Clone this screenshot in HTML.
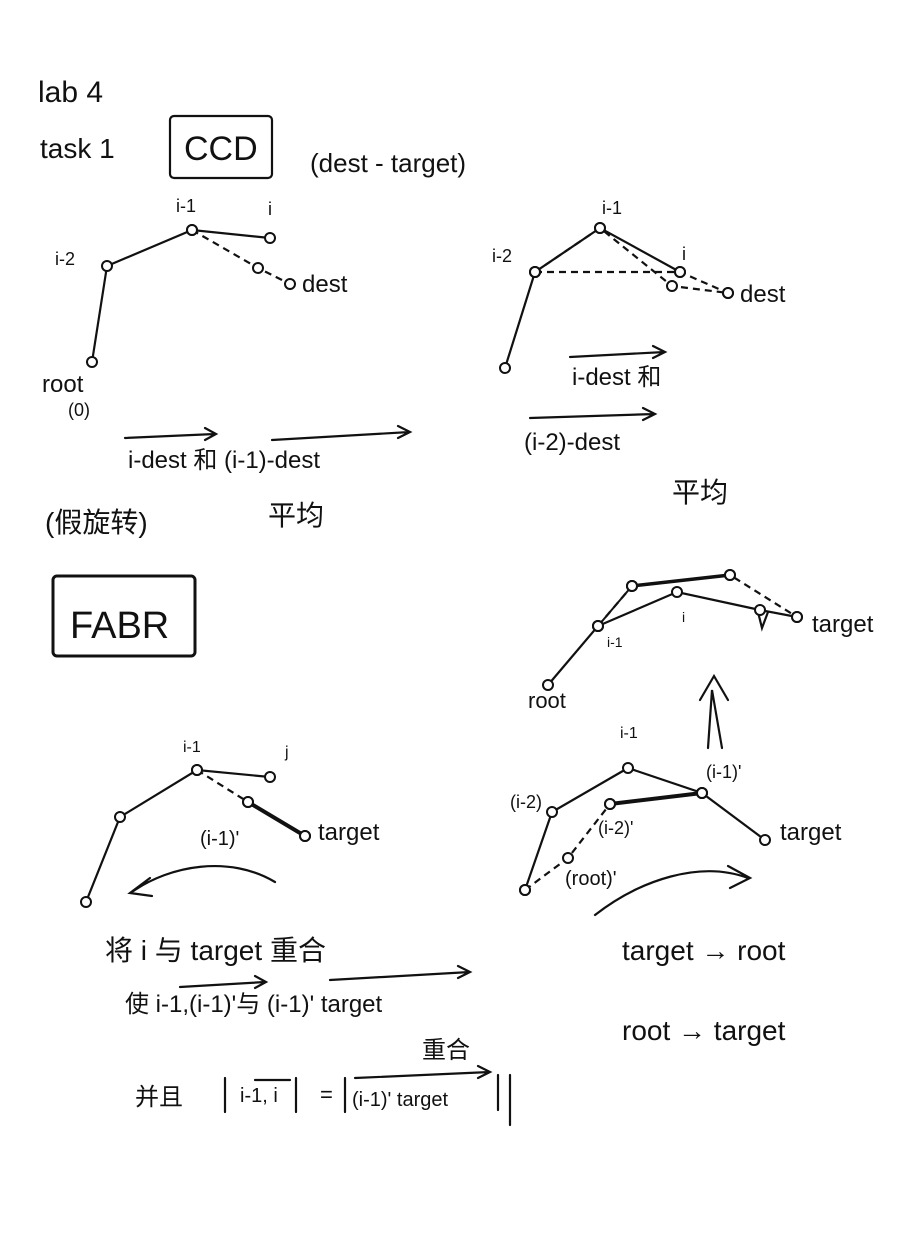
<!DOCTYPE html>
<html><head><meta charset="utf-8"><style>
html,body{margin:0;padding:0;background:#fff;}
svg{display:block;}
text{font-family:"Liberation Sans","Noto Sans CJK SC",sans-serif;fill:#111;}
</style></head><body>
<svg id="s" width="919" height="1234" viewBox="0 0 919 1234">
<g stroke="#111" fill="none" stroke-width="2.2" stroke-linecap="round">
  <rect x="170" y="116" width="102" height="62" rx="4"/>
  <rect x="53" y="576" width="142" height="80" rx="4" stroke-width="3"/>
  <path d="M125 438 L215 434 M205 428 L216 434 L205 440"/>
  <path d="M272 440 L410 432 M398 426 L410 432 L398 438"/>
  <path d="M570 357 L665 352 M653 346 L665 352 L653 358"/>
  <path d="M530 418 L655 414 M643 408 L655 414 L643 420"/>
  <path d="M180 987 L265 982 M255 976 L266 982 L255 988"/>
  <path d="M330 980 L470 972 M458 966 L470 972 L458 978"/>
  <path d="M255 1080 L290 1080"/>
  <path d="M355 1078 L490 1072 M478 1066 L490 1072 L478 1078"/>
  <path d="M225 1078 L225 1112 M296 1078 L296 1112 M345 1078 L345 1112 M498 1075 L498 1110 M510 1075 L510 1125"/>
  <path d="M275 882 C230 855 170 865 132 892 M150 878 L130 893 L152 896"/>
  <path d="M595 915 C640 880 700 860 748 878 M728 866 L750 878 L730 888"/>
  <path d="M708 748 L712 690 L722 748 M700 700 L714 676 L728 700"/>
  <path d="M758 612 L762 628 L768 612"/>
</g>
<g id="chains"></g>
<g font-size="26">
  <text x="38" y="102" font-size="30">lab 4</text>
  <text x="40" y="158" font-size="28">task 1</text>
  <text x="184" y="160" font-size="34">CCD</text>
  <text x="310" y="172" font-size="26">(dest - target)</text>
  <text x="55" y="265" font-size="18">i-2</text>
  <text x="176" y="212" font-size="18">i-1</text>
  <text x="268" y="215" font-size="18">i</text>
  <text x="302" y="292" font-size="24">dest</text>
  <text x="42" y="392" font-size="24">root</text>
  <text x="68" y="416" font-size="18">(0)</text>
  <text x="128" y="468" font-size="24">i-dest 和 (i-1)-dest</text>
  <text x="45" y="532" font-size="28">(假旋转)</text>
  <text x="268" y="525" font-size="28">平均</text>
  <text x="492" y="262" font-size="18">i-2</text>
  <text x="602" y="214" font-size="18">i-1</text>
  <text x="682" y="260" font-size="18">i</text>
  <text x="740" y="302" font-size="24">dest</text>
  <text x="572" y="385" font-size="24">i-dest 和</text>
  <text x="524" y="450" font-size="24">(i-2)-dest</text>
  <text x="672" y="502" font-size="28">平均</text>
  <text x="70" y="638" font-size="38">FABR</text>
  <text x="183" y="752" font-size="16">i-1</text>
  <text x="285" y="757" font-size="16">j</text>
  <text x="200" y="845" font-size="20">(i-1)'</text>
  <text x="318" y="840" font-size="24">target</text>
  <text x="105" y="960" font-size="28">将 i 与 target 重合</text>
  <text x="125" y="1012" font-size="24">使 i-1,(i-1)'与 (i-1)' target</text>
  <text x="422" y="1058" font-size="24">重合</text>
  <text x="135" y="1105" font-size="24">并且</text>
  <text x="240" y="1102" font-size="20">i-1, i</text>
  <text x="320" y="1102" font-size="22">=</text>
  <text x="352" y="1106" font-size="20">(i-1)' target</text>
  <text x="528" y="708" font-size="22">root</text>
  <text x="607" y="647" font-size="14">i-1</text>
  <text x="682" y="622" font-size="14">i</text>
  <text x="812" y="632" font-size="24">target</text>
  <text x="620" y="738" font-size="16">i-1</text>
  <text x="706" y="778" font-size="18">(i-1)'</text>
  <text x="510" y="808" font-size="18">(i-2)</text>
  <text x="598" y="834" font-size="18">(i-2)'</text>
  <text x="780" y="840" font-size="24">target</text>
  <text x="565" y="885" font-size="20">(root)'</text>
  <text x="622" y="960" font-size="28">target → root</text>
  <text x="622" y="1040" font-size="28">root → target</text>
</g>
</svg>
<script>
const chainA = [[92,362],[107,266],[192,230],[270,238]];
const chainAdash = [[192,230],[258,268],[290,284]];
const chainB = [[505,368],[535,272],[600,228],[680,272]];
const chainBdash = [[535,272],[600,228],[672,286],[728,293]];
const chainC = [[86,902],[120,817],[197,770],[270,777]];
const chainCdash = [[197,770],[248,802],[305,836]];
const chainD = [[548,685],[598,626],[677,592],[760,610],[797,617]];
const chainD2 = [[598,626],[632,586],[730,575],[797,617]];
const chainE = [[525,890],[552,812],[628,768],[702,793],[765,840]];
const chainE2 = [[525,890],[568,858],[610,804],[702,793]];
const ns = "http://www.w3.org/2000/svg";
const g = document.getElementById('chains');
function draw(pts, dashed, name, w){
  const p = document.createElementNS(ns,'polyline');
  p.setAttribute('points', pts.map(q=>q.join(',')).join(' '));
  p.setAttribute('fill','none');p.setAttribute('stroke','#111');
  p.setAttribute('stroke-width', w||2.2);
  if(dashed)p.setAttribute('stroke-dasharray','7 5');
  
  
  g.appendChild(p);
  pts.forEach(q=>{
    const c=document.createElementNS(ns,'circle');
    c.setAttribute('cx',q[0]);c.setAttribute('cy',q[1]);c.setAttribute('r',5);
    c.setAttribute('fill','#fff');c.setAttribute('stroke','#111');c.setAttribute('stroke-width',2);
    
    
    g.appendChild(c);
  });
}
draw(chainAdash,true,'ccd-dashed');
draw(chainA,false,'ccd-chain');
draw(chainBdash,true,'ccd2-dashed');
draw([[535,272],[680,272],[728,293]],true,'ccd2-dashed-2');
draw(chainB,false,'ccd2-chain');
draw(chainCdash,true,'fabr-dashed');
draw(chainC,false,'fabr-chain');
draw([[248,802],[305,836]],false,'fabr-bold',4);
draw(chainD2,true,'fabr-top-dashed');
draw(chainD,false,'fabr-top-chain');
draw([[598,626],[632,586]],false,'seg',2);
draw([[632,586],[730,575]],false,'seg-bold',3.5);
draw(chainE2,true,'fabr-mid-dashed');
draw(chainE,false,'fabr-mid-chain');
draw([[610,804],[702,793]],false,'fabr-mid-bold',4);
</script>
</body></html>
